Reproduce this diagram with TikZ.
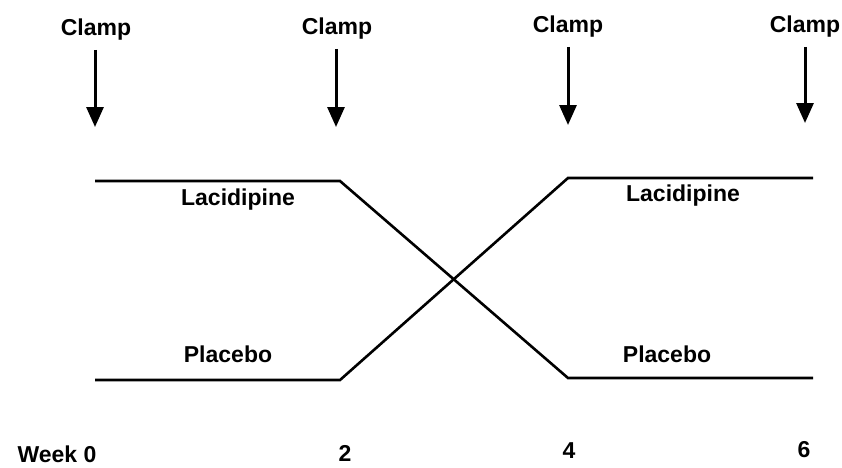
\documentclass[tikz,border=0pt]{standalone}
\usepackage{fontspec}
\setmainfont{Liberation Sans}
\usetikzlibrary{arrows.meta}

\begin{document}
\begin{tikzpicture}[x=1pt,y=-1pt,
		every node/.style={font=\bfseries\fontsize{23}{26}\selectfont, inner sep=0pt},
		clamp/.style={line width=3pt, shorten <=9pt, -{Triangle[length=20pt,width=17pt]}},
		arm/.style={line width=2.6pt, line join=miter}
	]
	\useasboundingbox (0,0) rectangle (842,467);

	% clamp markers
	\node (c0) at (96,30) {Clamp};
	\node (c2) at (337,29) {Clamp};
	\node (c4) at (568,27) {Clamp};
	\node (c6) at (805,27) {Clamp};
	\coordinate (t0) at (95,127);
	\coordinate (t2) at (336,127);
	\coordinate (t4) at (568,125);
	\coordinate (t6) at (805,123);
	\draw[clamp] (c0.south -| t0) -- (t0);
	\draw[clamp] (c2.south -| t2) -- (t2);
	\draw[clamp] (c4.south -| t4) -- (t4);
	\draw[clamp] (c6.south -| t6) -- (t6);

	% treatment arms
	\coordinate (a0) at (95,181);
	\coordinate (a2) at (340,181);
	\coordinate (a4) at (568,378);
	\coordinate (a6) at (813,378);
	\coordinate (b0) at (95,380);
	\coordinate (b2) at (340,380);
	\coordinate (b4) at (568,178);
	\coordinate (b6) at (813,178);
	\draw[arm] (a0) -- (a2) -- (a4) -- (a6);
	\draw[arm] (b0) -- (b2) -- (b4) -- (b6);

	\node (lac1) at (238,200) {Lacidipine};
	\node (pla1) at (228,354) {Placebo};
	\node (lac2) at (683,196) {Lacidipine};
	\node (pla2) at (667,354) {Placebo};

	% time axis
	\node (w0) at (57,454) {Week 0};
	\node (w2) at (345,453) {2};
	\node (w4) at (569,451) {4};
	\node (w6) at (804,450) {6};
\end{tikzpicture}
\end{document}
